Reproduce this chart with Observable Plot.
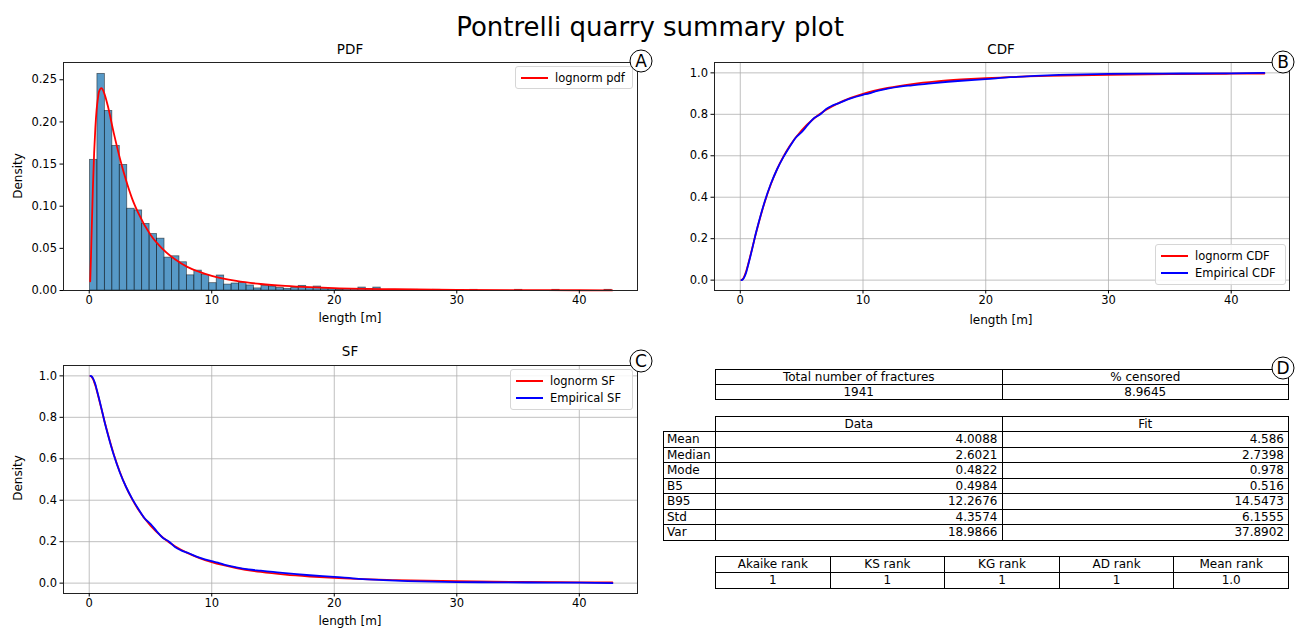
<!DOCTYPE html>
<html>
<head>
<meta charset="utf-8">
<script src="https://cdn.jsdelivr.net/npm/d3@7"></script>
<script src="https://cdn.jsdelivr.net/npm/@observablehq/plot@0.6"></script>
<style>
  body { margin: 0; background: #fff; font-family: "DejaVu Sans", sans-serif; color: #000; }
  #root { position: relative; width: 1295px; height: 628px; overflow: hidden; background: #fff; }
  .txt { position: absolute; white-space: nowrap; transform: translate(-50%, -50%); line-height: 1; }
  .legend { position: absolute; border: 1px solid #d6d6d6; border-radius: 3px; background: rgba(255,255,255,0.85); box-sizing: border-box; font-size: 11.5px; }
  .legend .row { position: absolute; left: 5px; height: 14px; }
  .legend .sw { position: absolute; left: 0; top: 6px; width: 27px; height: 2px; }
  .legend .lt { position: absolute; left: 34px; top: 0; line-height: 14px; white-space: nowrap; }
  .cell { position: absolute; box-sizing: border-box; border: 1px solid #000; font-size: 12px; white-space: nowrap; overflow: hidden; }
  .circ { position: absolute; width: 23px; height: 23px; border: 1.2px solid #000; border-radius: 50%; box-sizing: border-box; background: #fff;
          font-size: 17px; line-height: 21px; text-align: center; transform: translate(-50%, -50%); }
</style>
</head>
<body>
<div id="root"></div>
<script>
// ---------------- data ----------------
// histogram (density) – 70 equal bins
const histStart = 0.06;
const histEnd = 42.66;
const histDensity = [
  0.155, 0.257, 0.213, 0.1715, 0.149, 0.097, 0.095, 0.079, 0.067, 0.0615,
  0.039, 0.0406, 0.0335, 0.018, 0.0236, 0.0183, 0.0087, 0.0178, 0.007, 0.0083,
  0.009, 0.006, 0.0025, 0.0053, 0.0047, 0.003, 0.002, 0.003, 0.0055, 0.003,
  0.0047, 0.0016, 0.0016, 0.001, 0.0016, 0.0016, 0.0035, 0.0016, 0.0035, 0,
  0.0008, 0, 0, 0.0008, 0, 0, 0.0008, 0, 0, 0,
  0, 0.0008, 0, 0, 0, 0, 0, 0.0008, 0, 0,
  0, 0, 0.0008, 0, 0, 0, 0, 0, 0, 0.0008
];

// fitted lognormal pdf
const pdfX = [0.08, 0.1, 0.15, 0.2, 0.3, 0.4, 0.5, 0.6, 0.7, 0.8, 1.0, 1.2, 1.5, 2, 2.5, 3, 3.5, 4, 5, 6, 7, 8, 9, 10, 12, 14, 16, 18, 20, 25, 30, 35, 40, 42.7];
const pdfY = [0.011, 0.019, 0.044, 0.071, 0.122, 0.163, 0.193, 0.214, 0.227, 0.236, 0.240, 0.235, 0.220, 0.187, 0.157, 0.131, 0.109, 0.092, 0.066, 0.049, 0.037, 0.028, 0.022, 0.0174, 0.0114, 0.0077, 0.0054, 0.0039, 0.0029, 0.0015, 0.0008, 0.0005, 0.0003, 0.0002];

// fitted lognormal CDF / SF
const fitX = [0.1, 0.2, 0.3, 0.4, 0.5, 0.6, 0.8, 1, 1.25, 1.5, 2, 2.5, 3, 3.5, 4, 5, 6, 7, 8, 9, 10, 12, 14, 16, 18, 20, 25, 30, 35, 40, 42.7];
const cdfFit = [0.0006, 0.005, 0.015, 0.029, 0.047, 0.067, 0.113, 0.160, 0.220, 0.276, 0.378, 0.464, 0.536, 0.595, 0.645, 0.723, 0.780, 0.822, 0.854, 0.879, 0.899, 0.927, 0.946, 0.959, 0.968, 0.975, 0.985, 0.991, 0.994, 0.996, 0.997];
const sfFit  = [0.9994, 0.995, 0.985, 0.971, 0.953, 0.933, 0.887, 0.840, 0.780, 0.724, 0.622, 0.536, 0.464, 0.405, 0.355, 0.277, 0.220, 0.178, 0.146, 0.121, 0.101, 0.073, 0.054, 0.041, 0.032, 0.025, 0.015, 0.009, 0.006, 0.004, 0.003];

// empirical CDF / SF
const empX = [0.1, 0.2, 0.3, 0.4, 0.5, 0.6, 0.8, 1, 1.25, 1.5, 2, 2.5, 3, 3.5, 4, 4.5, 5, 5.5, 6, 6.5, 7, 7.5, 8, 9, 10, 10.5, 11, 12, 13, 14, 15, 16, 18, 20, 22, 24, 26, 28, 30, 33, 36, 40, 42.7];
const cdfEmp = [0, 0.003, 0.011, 0.024, 0.041, 0.063, 0.109, 0.158, 0.221, 0.278, 0.381, 0.466, 0.535, 0.592, 0.641, 0.686, 0.714, 0.749, 0.781, 0.799, 0.826, 0.842, 0.853, 0.877, 0.894, 0.901, 0.911, 0.924, 0.934, 0.940, 0.946, 0.952, 0.962, 0.970, 0.979, 0.985, 0.990, 0.993, 0.995, 0.996, 0.997, 0.998, 1.0];
const sfEmp  = [1, 0.997, 0.989, 0.976, 0.959, 0.937, 0.891, 0.842, 0.779, 0.722, 0.619, 0.534, 0.465, 0.408, 0.359, 0.314, 0.286, 0.251, 0.219, 0.201, 0.174, 0.158, 0.147, 0.123, 0.106, 0.099, 0.089, 0.076, 0.066, 0.060, 0.054, 0.048, 0.038, 0.030, 0.021, 0.015, 0.010, 0.007, 0.005, 0.004, 0.003, 0.002, 0];

// tick labels
const xTicks = [0, 10, 20, 30, 40];
const pdfTicks = [0, 0.05, 0.10, 0.15, 0.20, 0.25];
const unitTicks = [0, 0.2, 0.4, 0.6, 0.8, 1.0];

// tables
const t1Header = ["Total number of fractures", "% censored"];
const t1Values = ["1941", "8.9645"];
const t2Header = ["Data", "Fit"];
const t2Rows = ["Mean", "Median", "Mode", "B5", "B95", "Std", "Var"];
const t2Data = ["4.0088", "2.6021", "0.4822", "0.4984", "12.2676", "4.3574", "18.9866"];
const t2Fit  = ["4.586", "2.7398", "0.978", "0.516", "14.5473", "6.1555", "37.8902"];
const t3Header = ["Akaike rank", "KS rank", "KG rank", "AD rank", "Mean rank"];
const t3Values = ["1", "1", "1", "1", "1.0"];

// ---------------- helpers ----------------
const root = document.getElementById("root");
function place(el, left, top) { el.style.position = "absolute"; el.style.left = left + "px"; el.style.top = top + "px"; root.appendChild(el); return el; }
function text(str, cx, cy, size, rotate) {
  const d = document.createElement("div");
  d.className = "txt"; d.textContent = str; d.style.fontSize = size + "px";
  d.style.left = cx + "px"; d.style.top = cy + "px";
  if (rotate) d.style.transform = "translate(-50%, -50%) rotate(" + rotate + "deg)";
  root.appendChild(d); return d;
}
function legend(left, top, w, h, items) {
  const d = document.createElement("div"); d.className = "legend";
  d.style.left = left + "px"; d.style.top = top + "px"; d.style.width = w + "px"; d.style.height = h + "px";
  items.forEach((it, i) => {
    const r = document.createElement("div"); r.className = "row"; r.style.top = (4 + i * 17) + "px";
    const s = document.createElement("div"); s.className = "sw"; s.style.background = it.color;
    const t = document.createElement("div"); t.className = "lt"; t.textContent = it.text;
    r.appendChild(s); r.appendChild(t); d.appendChild(r);
  });
  root.appendChild(d);
}
function circ(letter, cx, cy) {
  const d = document.createElement("div"); d.className = "circ"; d.textContent = letter;
  d.style.left = cx + "px"; d.style.top = cy + "px"; root.appendChild(d);
}
function cell(str, left, top, w, h, align) {
  const d = document.createElement("div"); d.className = "cell"; d.textContent = str;
  d.style.left = left + "px"; d.style.top = top + "px"; d.style.width = (w + 1) + "px"; d.style.height = (h + 1) + "px";
  d.style.lineHeight = (h - 1) + "px"; d.style.textAlign = align || "center";
  if (align === "right") d.style.paddingRight = "4px";
  if (align === "left") d.style.paddingLeft = "3px";
  root.appendChild(d);
}

const xDomain = [-2.1, 44.75];
const baseStyle = { fontFamily: "DejaVu Sans, sans-serif", fontSize: "11.5px", color: "#000", background: "transparent", overflow: "visible" };
const axX = () => Plot.axisX({ ticks: xTicks, tickSize: 3.5, tickPadding: 2, fontSize: 11.5, label: null, tickFormat: d3.format("d") });

// ---------------- PDF panel ----------------
const binW = (histEnd - histStart) / histDensity.length;
const bins = histDensity.map((d, i) => ({ x1: histStart + i * binW, x2: histStart + (i + 1) * binW, d })).filter(b => b.d > 0);
const pdfData = pdfX.map((x, i) => ({ x, y: pdfY[i] }));

const pdfPlot = Plot.plot({
  width: 660, height: 300,
  marginLeft: 63, marginRight: 23, marginTop: 22, marginBottom: 50,
  style: baseStyle,
  x: { domain: xDomain },
  y: { domain: [0, 0.2705] },
  marks: [
    Plot.rectY(bins, { x1: "x1", x2: "x2", y: "d", inset: 0, fill: "#1f77b4", fillOpacity: 0.75, stroke: "#000", strokeOpacity: 0.55, strokeWidth: 0.8 }),
    Plot.line(pdfData, { x: "x", y: "y", stroke: "#ff0000", strokeWidth: 1.8, curve: "monotone-x" }),
    Plot.frame({ stroke: "#222", strokeWidth: 1 }),
    axX(),
    Plot.axisY({ ticks: pdfTicks, tickSize: 3.5, tickPadding: 3, fontSize: 11.5, label: null, tickFormat: d3.format(".2f") })
  ]
});
place(pdfPlot, 0, 40);

// ---------------- CDF panel ----------------
const cdfFitData = fitX.map((x, i) => ({ x, y: cdfFit[i] }));
const cdfEmpData = empX.map((x, i) => ({ x, y: cdfEmp[i] }));
const cdfPlot = Plot.plot({
  width: 635, height: 300,
  marginLeft: 54, marginRight: 6, marginTop: 22, marginBottom: 50,
  style: baseStyle,
  x: { domain: xDomain },
  y: { domain: [-0.05, 1.05] },
  marks: [
    Plot.gridX({ ticks: xTicks, stroke: "#b0b0b0", strokeOpacity: 1, strokeWidth: 0.8 }),
    Plot.gridY({ ticks: unitTicks, stroke: "#b0b0b0", strokeOpacity: 1, strokeWidth: 0.8 }),
    Plot.line(cdfFitData, { x: "x", y: "y", stroke: "#ff0000", strokeWidth: 1.8, curve: "monotone-x" }),
    Plot.line(cdfEmpData, { x: "x", y: "y", stroke: "#0000ff", strokeWidth: 1.8, curve: "monotone-x" }),
    Plot.frame({ stroke: "#222", strokeWidth: 1 }),
    axX(),
    Plot.axisY({ ticks: unitTicks, tickSize: 3.5, tickPadding: 3, fontSize: 11.5, label: null, tickFormat: d3.format(".1f") })
  ]
});
place(cdfPlot, 660, 40);

// ---------------- SF panel ----------------
const sfFitData = fitX.map((x, i) => ({ x, y: sfFit[i] }));
const sfEmpData = empX.map((x, i) => ({ x, y: sfEmp[i] }));
const sfPlot = Plot.plot({
  width: 660, height: 288,
  marginLeft: 63, marginRight: 23, marginTop: 25, marginBottom: 35,
  style: baseStyle,
  x: { domain: xDomain },
  y: { domain: [-0.05, 1.05] },
  marks: [
    Plot.gridX({ ticks: xTicks, stroke: "#b0b0b0", strokeOpacity: 1, strokeWidth: 0.8 }),
    Plot.gridY({ ticks: unitTicks, stroke: "#b0b0b0", strokeOpacity: 1, strokeWidth: 0.8 }),
    Plot.line(sfFitData, { x: "x", y: "y", stroke: "#ff0000", strokeWidth: 1.8, curve: "monotone-x" }),
    Plot.line(sfEmpData, { x: "x", y: "y", stroke: "#0000ff", strokeWidth: 1.8, curve: "monotone-x" }),
    Plot.frame({ stroke: "#222", strokeWidth: 1 }),
    axX(),
    Plot.axisY({ ticks: unitTicks, tickSize: 3.5, tickPadding: 3, fontSize: 11.5, label: null, tickFormat: d3.format(".1f") })
  ]
});
place(sfPlot, 0, 340);

// ---------------- texts ----------------
text("Pontrelli quarry summary plot", 650, 27, 26);
text("PDF", 350, 50, 13.5);
text("CDF", 1001, 50, 13.5);
text("SF", 350, 352, 13.5);
text("Density", 18, 176, 12, -90);
text("Density", 18, 478, 12, -90);
text("length [m]", 350, 318, 12);
text("length [m]", 1001, 320, 12);
text("length [m]", 350, 621, 12);

legend(515, 66, 118, 23, [{ color: "#ff0000", text: "lognorm pdf" }]);
legend(1155, 244, 131, 41, [{ color: "#ff0000", text: "lognorm CDF" }, { color: "#0000ff", text: "Empirical CDF" }]);
legend(510, 369, 123, 41, [{ color: "#ff0000", text: "lognorm SF" }, { color: "#0000ff", text: "Empirical SF" }]);

// ---------------- tables ----------------
const tL = 715, tW = 573, half = tW / 2;
t1Header.forEach((h, i) => cell(h, tL + i * half, 369, half, 15));
t1Values.forEach((v, i) => cell(v, tL + i * half, 384, half, 15));
t2Header.forEach((h, i) => cell(h, tL + i * half, 416, half, 15));
t2Rows.forEach((r, j) => {
  const top = 431 + j * 15.57;
  cell(r, 663, top, 52, 15.57, "left");
  cell(t2Data[j], tL, top, half, 15.57, "right");
  cell(t2Fit[j], tL + half, top, half, 15.57, "right");
});
const fifth = tW / 5;
t3Header.forEach((h, i) => cell(h, tL + i * fifth, 556, fifth, 16));
t3Values.forEach((v, i) => cell(v, tL + i * fifth, 572, fifth, 16));

// ---------------- panel letters ----------------
circ("A", 641, 61);
circ("B", 1283, 62);
circ("C", 641, 361);
circ("D", 1283, 368);
</script>
</body>
</html>
